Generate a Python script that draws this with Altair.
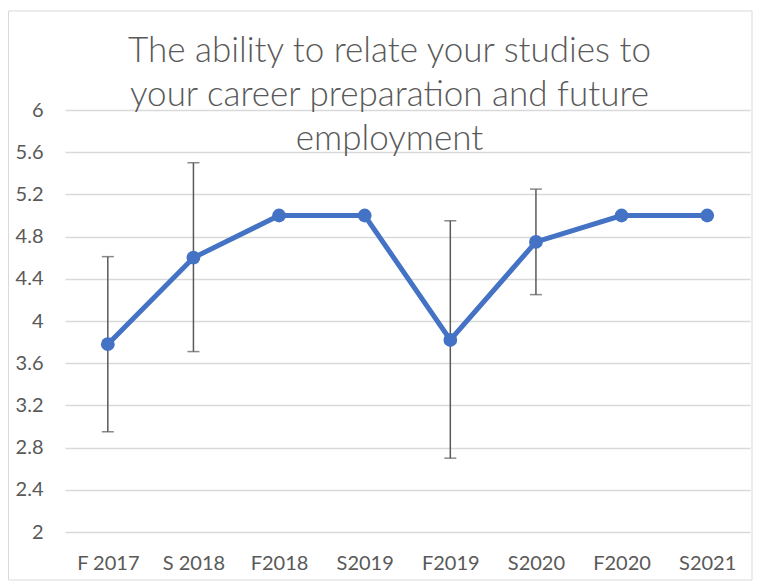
import altair as alt
import pandas as pd

terms = ["F 2017", "S 2018", "F2018", "S2019", "F2019", "S2020", "F2020", "S2021"]
means = [3.78, 4.60, 5.00, 5.00, 3.82, 4.75, 5.00, 5.00]
lows = [2.95, 3.71, None, None, 2.70, 4.25, None, None]
highs = [4.61, 5.50, None, None, 4.95, 5.25, None, None]
y_ticks = [2, 2.4, 2.8, 3.2, 3.6, 4, 4.4, 4.8, 5.2, 5.6, 6]

df = pd.DataFrame({"term": terms, "mean": means, "low": lows, "high": highs})
err = df.dropna()

FONT = "Lato"
W, H = 685, 422

x_scale = alt.Scale(type="point", padding=0.5)
x = alt.X("term:N", sort=terms, title=None, scale=x_scale,
          axis=alt.Axis(labelAngle=0, labelFontSize=20, labelColor="#595959",
                        labelFont=FONT, ticks=False, domain=False, labelPadding=31,
                        grid=False, labelAlign="center"))
y_scale = alt.Scale(domain=[2, 6], nice=False, zero=False)
y = alt.Y("mean:Q", scale=y_scale, title=None,
          axis=alt.Axis(values=y_ticks, format=".1~f", labelFontSize=20,
                        labelColor="#595959", labelFont=FONT, ticks=False,
                        domain=False, labelPadding=22, gridColor="#d9d9d9",
                        gridWidth=1.5))

base = alt.Chart(df)

border = alt.Chart(pd.DataFrame({"a": [0]})).mark_rect(
    fill=None, stroke="#d9d9d9", strokeWidth=1, clip=False
).encode(x=alt.value(-56.5), x2=alt.value(W + 2), y=alt.value(-99), y2=alt.value(H + 48))

xe = alt.X("term:N", sort=terms, scale=x_scale)
rules = alt.Chart(err).mark_rule(color="#595959", strokeWidth=1.5).encode(
    x=xe, y=alt.Y("low:Q", scale=y_scale), y2="high:Q")
cap_lo = alt.Chart(err).mark_tick(color="#595959", size=12, thickness=1.5).encode(
    x=xe, y=alt.Y("low:Q", scale=y_scale))
cap_hi = alt.Chart(err).mark_tick(color="#595959", size=12, thickness=1.5).encode(
    x=xe, y=alt.Y("high:Q", scale=y_scale))

line = base.mark_line(color="#4472C4", strokeWidth=5).encode(x=x, y=y)
pts = base.mark_circle(color="#4472C4", size=190, opacity=1).encode(x=x, y=y)

chart = alt.layer(border, rules, cap_lo, cap_hi, line, pts).properties(
    width=W, height=H,
    title=alt.TitleParams(
        ["The ability to relate your studies to",
         "your career preparation and future",
         "employment"],
        fontSize=35, font=FONT, fontWeight=300, color="#595959",
        anchor="middle", frame="group", dx=-18, dy=101, offset=-45, lineHeight=44),
    padding={"left": 57, "top": 102, "right": 3, "bottom": 50},
    autosize=alt.AutoSizeParams(type="none"),
).configure_view(stroke=None)

chart.save("out.html", embed_options={"renderer": "svg", "actions": False})
